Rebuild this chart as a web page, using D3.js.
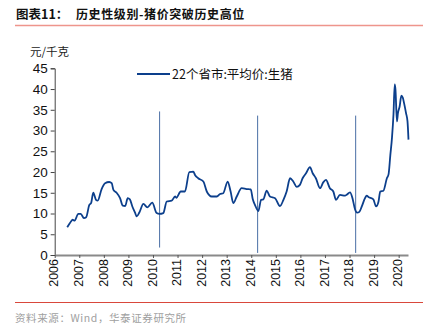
<!DOCTYPE html>
<html><head><meta charset="utf-8">
<script src="https://cdn.jsdelivr.net/npm/d3@7"></script>
<style>
html,body{margin:0;padding:0;background:#fff;}
svg{display:block;}
</style>
</head><body>
<div id="chart"></div>
<script>
const titleLabel = "图表11：";
const titleText = "历史性级别-猪价突破历史高位";
const unitLabel = "元/千克";
const seriesName = "22个省市:平均价:生猪";
const sourceText = "资料来源：Wind，华泰证券研究所";
const yTicks = [0,5,10,15,20,25,30,35,40,45];
const xTickYears = [2006,2007,2008,2009,2010,2011,2012,2013,2014,2015,2016,2017,2018,2019,2020];
const dates = [2006.51,2006.62,2006.73,2006.81,2006.96,2007.06,2007.19,2007.28,2007.41,2007.48,2007.57,2007.68,2007.75,2007.91,2008.05,2008.22,2008.32,2008.39,2008.52,2008.66,2008.77,2008.87,2008.97,2009.06,2009.16,2009.27,2009.34,2009.45,2009.61,2009.77,2009.97,2010.15,2010.26,2010.42,2010.56,2010.76,2010.9,2010.95,2011.13,2011.3,2011.48,2011.64,2011.71,2011.84,2012.05,2012.19,2012.39,2012.6,2012.73,2012.86,2013.04,2013.16,2013.27,2013.41,2013.61,2013.81,2013.98,2014.06,2014.15,2014.29,2014.4,2014.49,2014.63,2014.76,2014.97,2015.17,2015.31,2015.44,2015.58,2015.71,2015.85,2015.98,2016.09,2016.23,2016.39,2016.5,2016.63,2016.8,2016.93,2017.04,2017.2,2017.34,2017.45,2017.61,2017.82,2017.88,2018.02,2018.12,2018.22,2018.31,2018.4,2018.5,2018.63,2018.7,2018.77,2018.97,2019.08,2019.18,2019.25,2019.38,2019.52,2019.59,2019.66,2019.73,2019.79,2019.84,2019.87,2019.93,2019.97,2020.04,2020.11,2020.17,2020.22,2020.3,2020.36,2020.4];
const prices = [6.7,7.7,8.5,8.3,9.9,9.9,8.9,9.1,12.1,12.5,15.0,13.3,13.1,15.9,17.3,17.6,17.3,15.7,15.0,13.7,11.9,11.8,13.7,13.4,11.7,10.2,9.3,10.3,12.3,11.5,12.6,10.1,9.9,10.1,12.9,13.1,14.1,13.8,15.3,15.3,20.0,20.1,19.3,18.5,17.7,15.3,14.1,14.1,14.7,14.9,17.7,15.3,12.5,14.1,16.1,15.9,15.8,13.5,12.1,10.6,13.3,13.4,15.5,14.1,13.7,11.8,13.3,15.3,18.5,17.7,16.4,16.9,18.5,19.7,21.2,19.7,18.5,16.1,17.5,18.1,16.1,15.3,13.3,14.5,14.3,14.5,15.1,13.7,11.1,10.2,10.4,11.7,13.7,14.3,14.0,13.4,11.7,12.9,15.3,15.5,18.5,19.5,24.0,28.4,34.0,41.1,39.9,32.2,34.2,35.8,38.4,37.9,36.6,34.2,32.2,27.8];
const spikeDates = [2010.27, 2014.26, 2018.25];
const spikeHigh = [34.6, 33.6, 33.6];
const spikeLow = [1.8, 0.5, 0.5];

const W = 433, H = 335;
const svg = d3.select("#chart").append("svg").attr("width", W).attr("height", H);
const cjk = "'Noto Sans CJK SC','Noto Sans',sans-serif";
const latin = "'Liberation Sans',Arial,sans-serif";

// header
svg.append("text").attr("x", 16).attr("y", 19).text(titleLabel)
  .attr("font-family", cjk).attr("font-weight", "bold").attr("font-size", 12.5).attr("fill", "#111");
svg.append("text").attr("x", 76).attr("y", 19).text(titleText)
  .attr("font-family", cjk).attr("font-weight", "bold").attr("font-size", 12).attr("letter-spacing", 0.6).attr("fill", "#111");
svg.append("line").attr("x1", 15).attr("x2", 423).attr("y1", 25.5).attr("y2", 25.5)
  .attr("stroke", "#ee958c").attr("stroke-width", 1.6);
svg.append("text").attr("x", 30).attr("y", 56).text(unitLabel)
  .attr("font-family", cjk).attr("font-size", 11.5).attr("fill", "#222");

const x = d3.scaleLinear().domain([2006, 2020.38]).range([54.7, 408]);
const y = d3.scaleLinear().domain([0, 45]).range([255, 68.3]);

// y axis
const yAxis = svg.append("g").attr("transform", "translate(54.7,0)")
  .call(d3.axisLeft(y).tickValues(yTicks).tickSize(4).tickPadding(3));
yAxis.select(".domain").attr("stroke", "#444");
yAxis.selectAll(".tick line").attr("stroke", "#444");
yAxis.selectAll("text").attr("font-family", latin).attr("font-size", 13.5).attr("fill", "#111");

// x axis
const xAxis = svg.append("g").attr("transform", "translate(0,255)")
  .call(d3.axisBottom(x).tickValues(xTickYears).tickFormat(d3.format("d")).tickSize(3).tickSizeOuter(0).tickPadding(4));
xAxis.select(".domain").attr("stroke", "#8a8a8a").attr("stroke-width", 2);
xAxis.selectAll(".tick line").attr("stroke", "#555");
xAxis.selectAll("text").attr("font-family", latin).attr("font-size", 12.5).attr("fill", "#111")
  .attr("transform", "rotate(-90)").attr("text-anchor", "end").attr("y", 0).attr("x", -4)
  .attr("dominant-baseline", "middle").attr("dy", 0);

// spikes
svg.append("g").selectAll("line").data(spikeDates).join("line")
  .attr("x1", d => x(d)).attr("x2", d => x(d))
  .attr("y1", (d, i) => y(spikeHigh[i])).attr("y2", (d, i) => y(spikeLow[i]))
  .attr("stroke", "#4a6fa5").attr("stroke-width", 1);

// series
const pts = dates.map((d, i) => [d, prices[i]]);
svg.append("path").datum(pts)
  .attr("d", d3.line().x(d => x(d[0])).y(d => y(d[1])).curve(d3.curveMonotoneX))
  .attr("fill", "none").attr("stroke", "#0c3f8c").attr("stroke-width", 1.8).attr("stroke-linejoin", "round");

// legend
svg.append("line").attr("x1", 137).attr("x2", 170).attr("y1", 74).attr("y2", 74)
  .attr("stroke", "#0c3f8c").attr("stroke-width", 1.8);
svg.append("text").attr("x", 172).attr("y", 78.5).text(seriesName)
  .attr("font-family", cjk).attr("font-size", 12.5).attr("fill", "#111");

// footer
svg.append("line").attr("x1", 15).attr("x2", 423).attr("y1", 302.5).attr("y2", 302.5)
  .attr("stroke", "#d9483b").attr("stroke-width", 1);
svg.append("text").attr("x", 15).attr("y", 322).text(sourceText)
  .attr("font-family", cjk).attr("font-size", 10.5).attr("letter-spacing", 0.6).attr("fill", "#a0a0a0");
</script>
</body></html>
